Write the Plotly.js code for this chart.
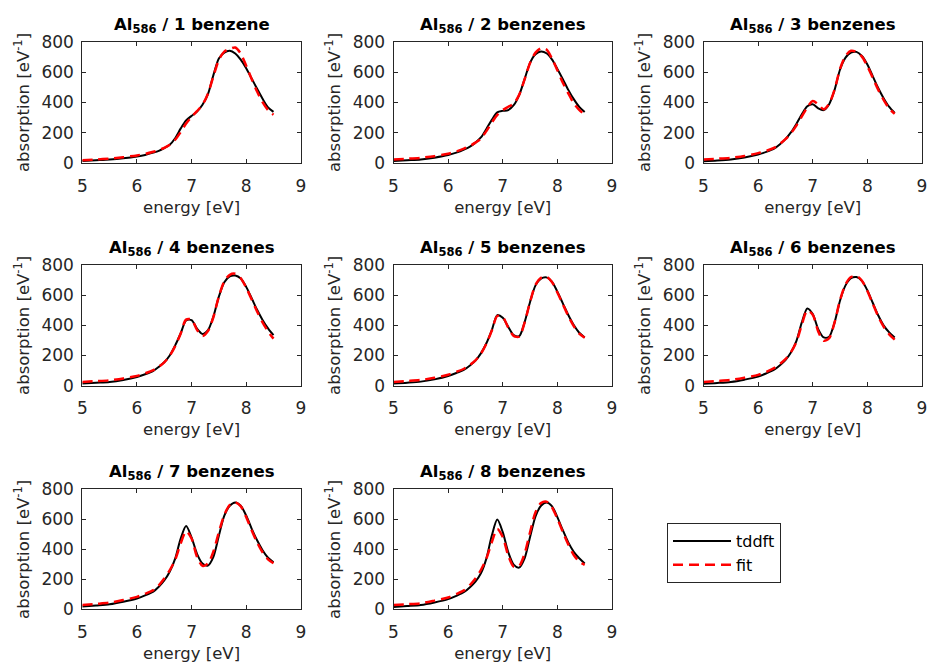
<!DOCTYPE html>
<html>
<head>
<meta charset="utf-8">
<script src="https://cdn.plot.ly/plotly-3.0.1.min.js"></script>
<style>html,body{margin:0;padding:0;background:#fff;}#chart{width:928px;height:667px;}</style>
</head>
<body>
<div id="chart"></div>
<script>
// energy grid [eV]
const energy = [5.0, 5.25, 5.5, 5.75, 6.0, 6.15, 6.3, 6.4, 6.5, 6.6, 6.7, 6.8, 6.9, 7.0, 7.1, 7.2, 7.3, 7.4, 7.5, 7.6, 7.7, 7.8, 7.9, 8.0, 8.1, 8.2, 8.3, 8.4, 8.5];

const panelTitles = ["1 benzene", "2 benzenes", "3 benzenes", "4 benzenes", "5 benzenes", "6 benzenes", "7 benzenes", "8 benzenes"];

const tddft1 = [15, 20, 25, 33, 45, 55, 70, 82, 100, 122, 165, 228, 282, 312, 340, 385, 455, 580, 690, 728, 740, 722, 682, 625, 558, 490, 425, 368, 338];
const fit1   = [20, 25, 31, 40, 52, 62, 76, 87, 102, 122, 155, 205, 262, 305, 343, 385, 458, 572, 680, 735, 752, 762, 722, 642, 555, 472, 402, 350, 320];

const tddft2 = [15, 20, 25, 37, 54, 70, 92, 110, 136, 170, 226, 286, 335, 345, 350, 382, 449, 554, 661, 717, 735, 724, 684, 621, 554, 483, 422, 371, 337];
const fit2   = [25, 30, 36, 47, 63, 78, 98, 115, 136, 162, 212, 268, 318, 350, 372, 392, 450, 552, 660, 728, 757, 748, 690, 612, 530, 460, 395, 352, 320];

const tddft3 = [13, 18, 25, 38, 58, 75, 98, 125, 159, 203, 259, 322, 375, 389, 362, 350, 389, 483, 617, 695, 729, 733, 706, 650, 572, 494, 427, 371, 331];
const fit3   = [25, 30, 36, 48, 67, 82, 103, 128, 159, 197, 248, 308, 368, 410, 388, 355, 392, 485, 622, 706, 740, 733, 702, 639, 561, 483, 416, 360, 326];

const tddft4 = [15, 20, 25, 38, 58, 76, 99, 125, 155, 200, 267, 346, 432, 435, 378, 343, 368, 458, 590, 685, 725, 730, 710, 655, 580, 503, 436, 380, 335];
const fit4   = [25, 30, 36, 48, 65, 82, 103, 126, 155, 198, 262, 345, 438, 438, 370, 330, 362, 455, 592, 692, 735, 742, 712, 650, 572, 492, 420, 360, 312];

const tddft5 = [15, 20, 27, 42, 64, 84, 108, 134, 166, 214, 281, 369, 468, 450, 391, 336, 328, 420, 555, 665, 710, 718, 690, 623, 546, 469, 402, 351, 320];
const fit5   = [25, 31, 38, 52, 73, 92, 114, 138, 168, 212, 278, 365, 462, 455, 385, 330, 325, 418, 555, 668, 715, 722, 688, 618, 540, 462, 395, 345, 318];

const tddft6 = [13, 18, 25, 40, 60, 82, 108, 136, 170, 220, 295, 420, 512, 475, 375, 320, 325, 420, 565, 665, 712, 720, 695, 632, 548, 465, 398, 353, 320];
const fit6   = [25, 31, 38, 53, 72, 92, 118, 144, 176, 222, 290, 405, 498, 470, 360, 298, 315, 420, 568, 672, 720, 728, 696, 628, 542, 458, 390, 340, 305];

const tddft7 = [18, 25, 33, 50, 72, 93, 118, 150, 192, 250, 338, 470, 555, 480, 370, 305, 292, 350, 490, 625, 690, 712, 690, 625, 538, 460, 394, 344, 313];
const fit7   = [29, 36, 44, 62, 83, 104, 128, 160, 205, 260, 330, 438, 520, 472, 350, 290, 305, 385, 514, 630, 696, 713, 688, 615, 527, 446, 380, 333, 307];

const tddft8 = [16, 22, 29, 46, 68, 90, 117, 147, 184, 240, 338, 492, 598, 514, 382, 298, 278, 340, 482, 620, 690, 712, 688, 615, 527, 446, 383, 340, 306];
const fit8   = [29, 34, 40, 58, 79, 102, 128, 162, 205, 262, 338, 448, 536, 482, 360, 284, 289, 371, 514, 647, 708, 718, 680, 604, 516, 433, 362, 318, 296];

const xTicks = [5, 6, 7, 8, 9];
const yTicks = [0, 200, 400, 600, 800];

const tddftSeries = [tddft1, tddft2, tddft3, tddft4, tddft5, tddft6, tddft7, tddft8];
const fitSeries = [fit1, fit2, fit3, fit4, fit5, fit6, fit7, fit8];

const W = 928, H = 667;
const colPx = [[82.3, 300.8], [393.5, 612], [703.5, 922]];
const rowPx = [[41.7, 163.3], [265, 385.7], [489.3, 609.3]];

const axisColor = '#262626';
const tickFont = {family: 'DejaVu Sans, sans-serif', size: 17, color: axisColor};
const labelFont = {family: 'DejaVu Sans, sans-serif', size: 16.5, color: axisColor};

const data = [];
const layout = {
  width: W, height: H,
  margin: {l: 0, r: 0, t: 0, b: 0},
  paper_bgcolor: '#ffffff', plot_bgcolor: '#ffffff',
  showlegend: true,
  legend: {
    x: 667 / W, y: 1 - 523 / H, xanchor: 'left', yanchor: 'top',
    bordercolor: axisColor, borderwidth: 1, bgcolor: '#ffffff',
    font: {family: 'DejaVu Sans, sans-serif', size: 16, color: '#000'},
    itemwidth: 58, tracegroupgap: 0
  },
  annotations: []
};

for (let i = 0; i < 8; i++) {
  const r = Math.floor(i / 3), c = i % 3;
  const n = i + 1;
  const xa = 'x' + (n === 1 ? '' : n), ya = 'y' + (n === 1 ? '' : n);
  const xkey = 'xaxis' + (n === 1 ? '' : n), ykey = 'yaxis' + (n === 1 ? '' : n);
  data.push({
    x: energy, y: tddftSeries[i], xaxis: xa, yaxis: ya, type: 'scatter', mode: 'lines',
    name: 'tddft', legendgroup: 'tddft', showlegend: i === 0,
    line: {color: '#000000', width: 2, shape: 'spline', smoothing: 0.8},
    hoverinfo: 'skip'
  });
  data.push({
    x: energy, y: fitSeries[i], xaxis: xa, yaxis: ya, type: 'scatter', mode: 'lines',
    name: 'fit', legendgroup: 'fit', showlegend: i === 0,
    line: {color: '#ff0000', width: 2.5, dash: '10px,6px', shape: 'spline', smoothing: 0.8},
    hoverinfo: 'skip'
  });
  const xd = [colPx[c][0] / W, colPx[c][1] / W];
  const yd = [1 - rowPx[r][1] / H, 1 - rowPx[r][0] / H];
  layout[xkey] = {
    domain: xd, anchor: ya, range: [5, 9], tickvals: xTicks, ticktext: xTicks.map(String),
    ticks: 'inside', ticklen: 4, tickwidth: 1, tickcolor: axisColor,
    showline: true, linecolor: axisColor, linewidth: 1, mirror: 'ticks',
    showgrid: false, zeroline: false, tickfont: tickFont, ticklabelstandoff: 7,
    title: {text: 'energy [eV]', font: labelFont, standoff: 6}
  };
  layout[ykey] = {
    domain: yd, anchor: xa, range: [0, 800], tickvals: yTicks, ticktext: yTicks.map(String),
    ticks: 'inside', ticklen: 4, tickwidth: 1, tickcolor: axisColor,
    showline: true, linecolor: axisColor, linewidth: 1, mirror: 'ticks',
    showgrid: false, zeroline: false, tickfont: tickFont, ticklabelstandoff: 4,
    title: {text: 'absorption [eV<sup>-1</sup>]', font: labelFont, standoff: 7}
  };
  layout.annotations.push({
    xref: 'paper', yref: 'paper', x: (xd[0] + xd[1]) / 2, y: yd[1] + 4 / H,
    xanchor: 'center', yanchor: 'bottom', showarrow: false,
    text: '<b>Al<sub>586</sub> / ' + panelTitles[i] + '</b>',
    font: {family: 'DejaVu Sans, sans-serif', size: 16.5, color: '#000'}
  });
}

Plotly.newPlot('chart', data, layout, {staticPlot: true, displayModeBar: false});
</script>
</body>
</html>
